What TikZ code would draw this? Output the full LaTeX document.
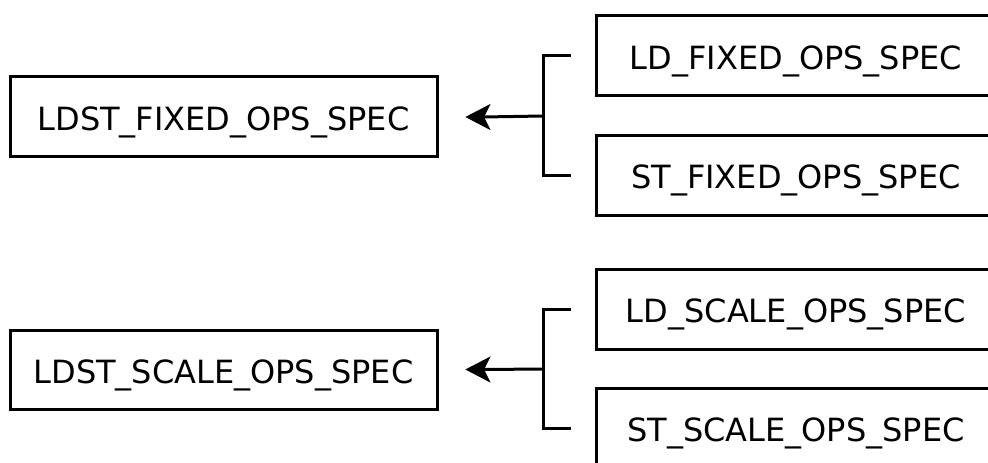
\documentclass[tikz,border=0pt]{standalone}
\usepackage{fontspec}
\setmainfont{DejaVu Sans}
\begin{document}
\begin{tikzpicture}[x=1pt,y=1pt,
  box/.style={draw=black,line width=3pt,inner sep=0pt,minimum height=80pt,text height=30pt,text depth=3pt,font=\fontsize{32}{38}\selectfont},
  lbox/.style={box,minimum width=427pt},
  rbox/.style={box,minimum width=400pt},
  link/.style={draw=black,line width=3pt},
  tip/.style={fill=black,draw=black,line width=1pt,line join=miter}]
\useasboundingbox (0,0) rectangle (988,-463);
\clip (0,0) rectangle (988,-463);
\fill[white] (0,0) rectangle (988,-463);
% top group
\node[lbox] (ldstf) at (223.5,-116.5) {LDST\_FIXED\_OPS\_SPEC};
\node[rbox] (ldf) at (796,-55.5) {LD\_FIXED\_OPS\_SPEC};
\node[rbox] (stf) at (796,-175) {ST\_FIXED\_OPS\_SPEC};
\coordinate (tf1) at ([xshift=-24pt]ldf.west);
\coordinate (tf2) at ([xshift=-24pt]stf.west);
\coordinate (jf) at (543,-116);
\coordinate (af) at ([xshift=28pt,yshift=-0.5pt]ldstf.east);
\coordinate (afb) at ([xshift=17pt]af);
\draw[link] (tf1) -| (jf) |- (tf2);
\draw[link] (jf) -- (afb);
\filldraw[tip] (af) -- ++(23,12) -- (afb) -- ++(6,-12) -- cycle;
% bottom group
\node[lbox,minimum height=79pt] (ldsts) at (223.5,-369.5) {LDST\_SCALE\_OPS\_SPEC};
\node[rbox] (lds) at (796,-309) {LD\_SCALE\_OPS\_SPEC};
\node[rbox] (sts) at (796,-428) {ST\_SCALE\_OPS\_SPEC};
\coordinate (ts1) at ([xshift=-24pt]lds.west);
\coordinate (ts2) at ([xshift=-24pt]sts.west);
\coordinate (js) at (543,-369);
\coordinate (as) at ([xshift=28pt]ldsts.east);
\coordinate (asb) at ([xshift=17pt]as);
\draw[link] (ts1) -| (js) |- (ts2);
\draw[link] (js) -- (asb);
\filldraw[tip] (as) -- ++(23,12) -- (asb) -- ++(6,-12) -- cycle;
\end{tikzpicture}
\end{document}
